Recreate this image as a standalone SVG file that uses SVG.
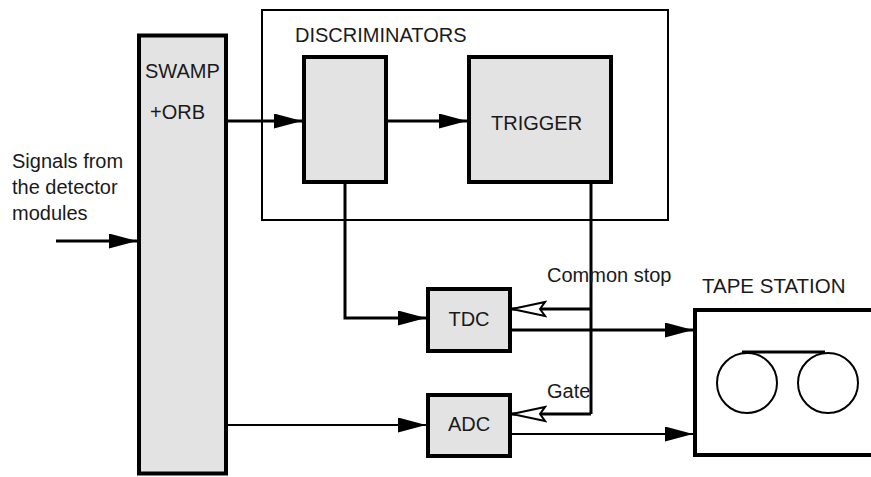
<svg xmlns="http://www.w3.org/2000/svg" width="871" height="477" viewBox="0 0 871 477">
<style>
.box{fill:#e3e3e3;stroke:#000;stroke-width:4}
.frame{fill:none;stroke:#000;stroke-width:2}
.t{font-family:"Liberation Sans",Arial,sans-serif;font-size:20px;fill:#1a1a1a}
.c{fill:none;stroke:#000;stroke-width:3}
.thin{fill:none;stroke:#000;stroke-width:2}
</style>
<defs>
<marker id="fa" markerUnits="userSpaceOnUse" markerWidth="30" markerHeight="16" refX="28" refY="7.5" orient="auto">
<path d="M0,0 L28,7.5 L0,15 Z" fill="#000"/>
</marker>
<marker id="oa" markerUnits="userSpaceOnUse" markerWidth="40" markerHeight="20" refX="35" refY="9" orient="auto">
<path d="M2,2 L35,9 L2,16 L7,9 Z" fill="#fff" stroke="#000" stroke-width="2"/>
</marker>
</defs>
<rect width="871" height="477" fill="#fff"/>
<g id="discriminators-group">
<rect class="frame" x="262" y="10" width="406" height="210"/>
<text class="t" x="295" y="42">DISCRIMINATORS</text>
</g>
<g id="swamp">
<rect class="box" x="139" y="35.5" width="87" height="438"/>
<text class="t" x="145" y="78">SWAMP</text>
<text class="t" x="150" y="119">+ORB</text>
</g>
<g id="input-label">
<text class="t" x="12" y="168">Signals from</text>
<text class="t" x="12" y="194">the detector</text>
<text class="t" x="12" y="220">modules</text>
</g>
<g id="discriminator">
<rect class="box" x="304" y="57" width="82" height="125"/>
</g>
<g id="trigger">
<rect class="box" x="469" y="57" width="142" height="125"/>
<text class="t" x="491" y="130">TRIGGER</text>
</g>
<g id="tdc">
<rect class="box" x="428" y="289" width="82" height="62"/>
<text class="t" x="469" y="326" text-anchor="middle">TDC</text>
</g>
<g id="adc">
<rect class="box" x="428" y="395" width="82" height="61"/>
<text class="t" x="469" y="431" text-anchor="middle">ADC</text>
</g>
<g id="tape-station">
<text class="t" x="702" y="293" style="font-size:20.5px">TAPE STATION</text>
<rect x="695" y="310" width="180" height="145" fill="none" stroke="#000" stroke-width="4"/>
<circle cx="747" cy="383" r="30" fill="none" stroke="#000" stroke-width="2"/>
<circle cx="828" cy="383" r="30" fill="none" stroke="#000" stroke-width="2"/>
<line x1="742" y1="352" x2="825" y2="352" stroke="#000" stroke-width="3"/>
</g>
<g id="connectors">
<line class="c" x1="56" y1="241" x2="137" y2="241" marker-end="url(#fa)"/>
<line class="c" x1="228" y1="121" x2="302" y2="121" marker-end="url(#fa)"/>
<line class="c" x1="388" y1="121" x2="467" y2="121" marker-end="url(#fa)"/>
<polyline class="c" points="345,184 345,318 426,318" marker-end="url(#fa)"/>
<line class="c" x1="591" y1="184" x2="591" y2="414"/>
<line class="c" x1="591" y1="309" x2="512" y2="309" marker-end="url(#oa)"/>
<line class="c" x1="591" y1="414" x2="512" y2="414" marker-end="url(#oa)"/>
<line class="c" x1="512" y1="330" x2="693" y2="330" marker-end="url(#fa)"/>
<line class="thin" x1="512" y1="434" x2="693" y2="434" marker-end="url(#fa)"/>
<line class="thin" x1="228" y1="425" x2="426" y2="425" marker-end="url(#fa)"/>
<text class="t" x="547" y="282">Common stop</text>
<text class="t" x="547" y="398">Gate</text>
</g>
</svg>
